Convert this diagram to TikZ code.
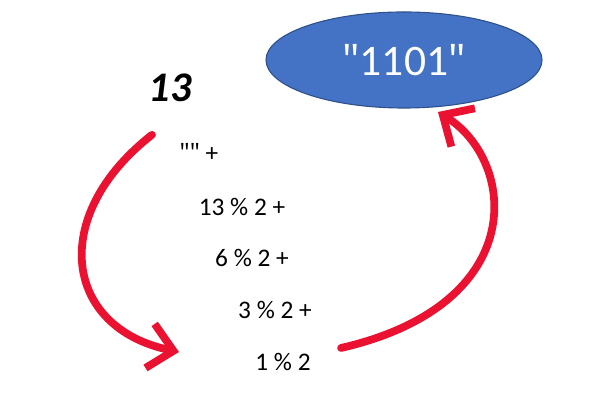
\documentclass[tikz,border=0pt]{standalone}
\usepackage{fontspec}
\setmainfont{Carlito}
\newfontfamily\quotefont{Open Sans}
\newcommand{\qmark}{{\quotefont"}}
\usetikzlibrary{shapes.geometric,arrows.meta}
\definecolor{arrowred}{RGB}{234,18,48}
\definecolor{resblue}{RGB}{68,114,196}
\definecolor{resedge}{RGB}{47,82,143}
\tikzset{
  term/.style={inner sep=1pt, font=\fontsize{18}{20}\selectfont},
  bigarrow/.style={draw=arrowred, line width=5.5pt, line cap=round,
    -{Straight Barb[length=17pt, width=32pt, line width=5.5pt]}}
}
\begin{document}
\begin{tikzpicture}
            \useasboundingbox (0,0) rectangle (15,10);
            \node [ellipse, draw=resedge, fill=resblue, line width=0.8pt, minimum width=6.9cm, minimum height=2.4cm, inner sep=0pt, text=white, font=\fontsize{31}{34}\selectfont] (res) at (10.1,8.5) {\qmark1101\qmark};
            \node [font=\fontsize{30}{34}\selectfont\bfseries\itshape] (n13) at (4.25,7.8) {13};
            
            \node [term] (t0) at (4.975,6.2) {\qmark\qmark{} +};
            \node [term] (t13) at (6.05,4.825) {13 \% 2 +};
            \node [term] (t6) at (6.3,3.55) {6 \% 2 +};
            \node [term] (t3) at (6.875,2.25) {3 \% 2 +};
            \node [term] (t1) at (7.075,0.95) {1 \% 2};
            
            \draw [bigarrow] ([shift={(-0.45,-1.17)}]n13.center) .. controls (1.2,4.6) and (1.6,1.8) .. ([shift={(-2.6,0.25)}]t1.center);
            \draw [bigarrow] ([shift={(1.45,0.35)}]t1.center) .. controls (13.3,2.4) and (12.9,6.0) .. ([shift={(0.85,-1.3)}]res.center);
        \end{tikzpicture}
\end{document}
